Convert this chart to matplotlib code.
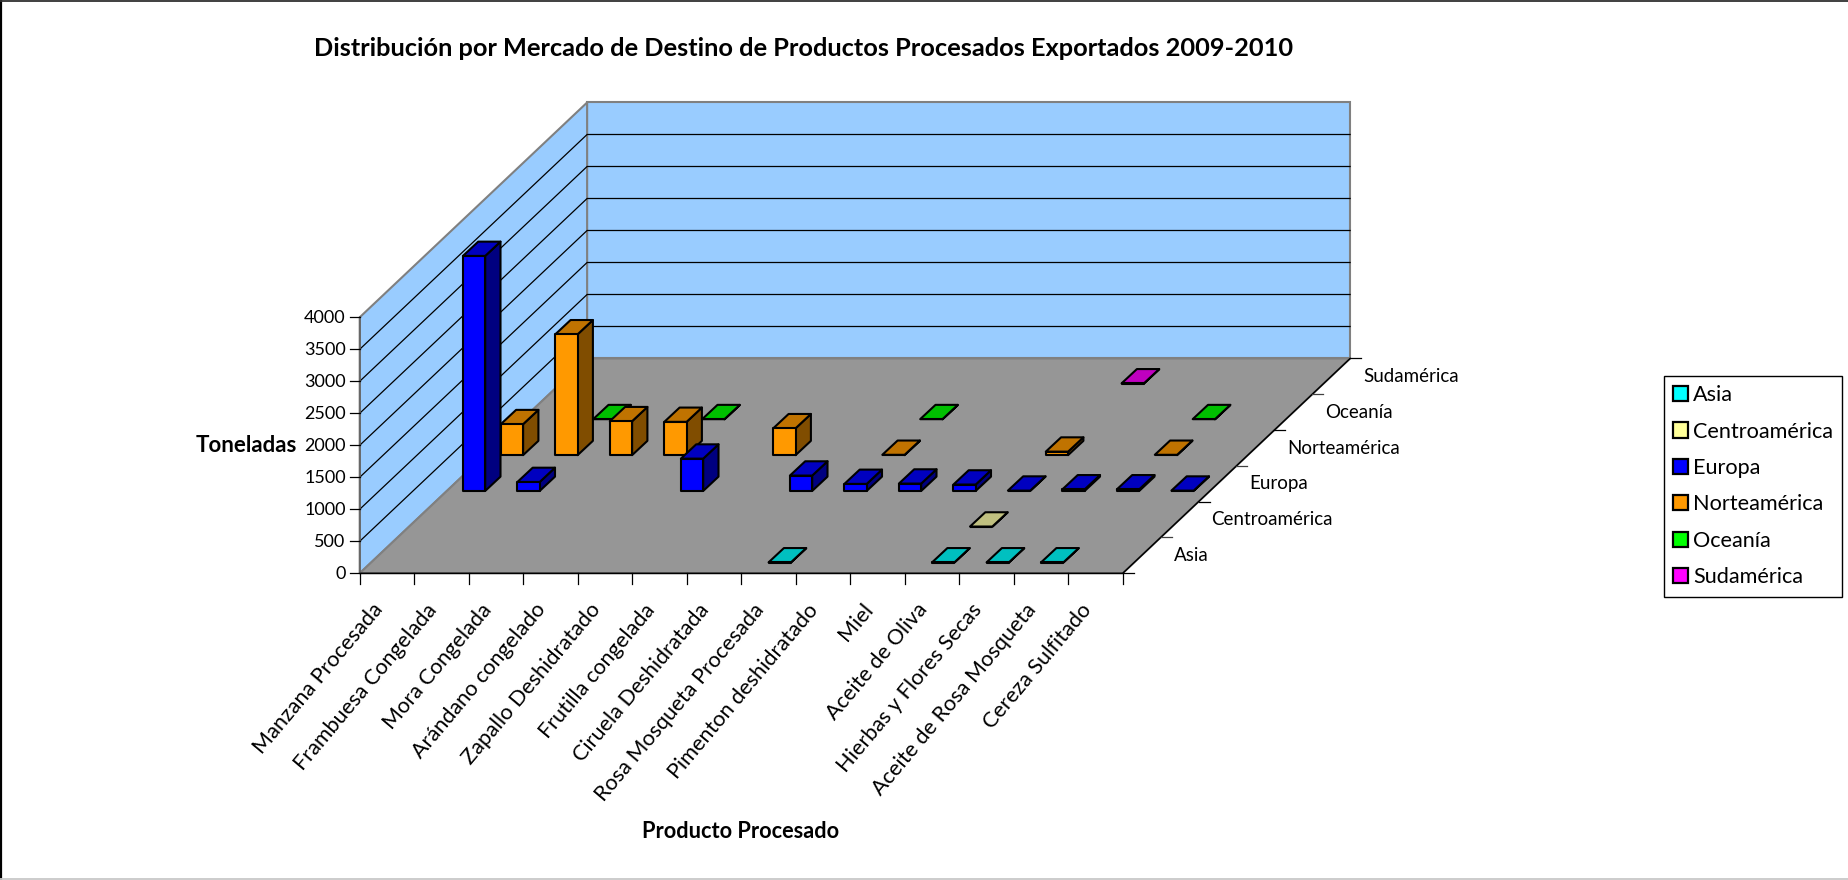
import matplotlib
matplotlib.use("Agg")
import matplotlib.pyplot as plt
from matplotlib.patches import Polygon, Patch

plt.rcParams['font.family'] = ['Lato', 'DejaVu Sans']

productos = ["Manzana Procesada", "Frambuesa Congelada", "Mora Congelada",
             "Arándano congelado", "Zapallo Deshidratado", "Frutilla congelada",
             "Ciruela Deshidratada", "Rosa Mosqueta Procesada", "Pimenton deshidratado",
             "Miel", "Aceite de Oliva", "Hierbas y Flores Secas",
             "Aceite de Rosa Mosqueta", "Cereza Sulfitado"]
mercados = ["Asia", "Centroamérica", "Europa", "Norteamérica", "Oceanía", "Sudamérica"]
z_ticks = [0, 500, 1000, 1500, 2000, 2500, 3000, 3500, 4000]

asia = [0, 0, 0, 0, 0, 0, 0, 3, 0, 0, 3, 3, 3, 0]
centroamerica = [0, 0, 0, 0, 0, 0, 0, 0, 0, 0, 3, 0, 0, 0]
europa = [3672, 140, 0, 0, 505, 0, 240, 110, 115, 100, 5, 25, 25, 5]
norteamerica = [484, 1888, 530, 520, 0, 420, 0, 5, 0, 0, 55, 0, 5, 0]
oceania = [0, 3, 0, 3, 0, 0, 0, 3, 0, 0, 0, 0, 3, 0]
sudamerica = [0, 0, 0, 0, 0, 0, 0, 0, 0, 0, 3, 0, 0, 0]
series = [asia, centroamerica, europa, norteamerica, oceania, sudamerica]

colores = ["#00FFFF", "#FFFF99", "#0000FF", "#FF9900", "#00FF00", "#FF00FF"]
caras_sup = ["#00C0C0", "#C0C080", "#0000C0", "#C07300", "#00C000", "#C000C0"]
caras_lat = ["#008080", "#80804D", "#000080", "#804D00", "#008000", "#800080"]

# oblique projection of the excel 3d box, in pixels
X0, Y0 = 359.7, 573.3
DX_CAT = 54.5
DX_SER, DY_SER = 37.9, 35.8
PX_POR_UNIDAD = 0.064
ANCHO = 22.3
PROF_X, PROF_Y = 15.3, 14.3


def proy(c, s, z=0):
    return (X0 + DX_CAT * c + DX_SER * s, Y0 - DY_SER * s - PX_POR_UNIDAD * z)


fig = plt.figure(figsize=(18.49, 8.80), dpi=100)
ax = fig.add_axes([0, 0, 1, 1])
ax.set_xlim(0, 1849)
ax.set_ylim(880, 0)
ax.axis("off")

# chart border: no right edge in the reference, bottom is light
ax.plot([0.8, 0.8], [0, 880], color="black", lw=1.6, clip_on=False)
ax.plot([0, 1849], [1.5, 1.5], color="#303030", lw=1.3, clip_on=False)
ax.plot([0, 1849], [879, 879], color="#C8C8C8", lw=1.3, clip_on=False)

nc, ns = len(productos), len(mercados)
z_max = z_ticks[-1]

# walls and floor
ax.add_patch(Polygon([proy(0, ns), proy(nc, ns), proy(nc, ns, z_max), proy(0, ns, z_max)],
                     fc="#99CCFF", ec="#808080", lw=1.5, zorder=1))
ax.add_patch(Polygon([proy(0, 0), proy(0, ns), proy(0, ns, z_max), proy(0, 0, z_max)],
                     fc="#99CCFF", ec="#808080", lw=1.5, zorder=1))
ax.add_patch(Polygon([proy(0, 0), proy(nc, 0), proy(nc, ns), proy(0, ns)],
                     fc="#969696", ec="#808080", lw=1.5, zorder=2))

# gridlines
for z in z_ticks[1:-1]:
    a, b, c = proy(0, 0, z), proy(0, ns, z), proy(nc, ns, z)
    ax.plot([a[0], b[0], c[0]], [a[1], b[1], c[1]], color="black", lw=0.9, zorder=1.5)

# front axis lines
a, b, c = proy(0, 0), proy(nc, 0), proy(nc, ns)
ax.plot([a[0], b[0], c[0]], [a[1], b[1], c[1]], color="black", lw=1.1, zorder=3)
t = proy(0, 0, z_max)
ax.plot([a[0], t[0]], [a[1], t[1]], color="#606060", lw=1.1, zorder=3)

# axis ticks and labels
for z in z_ticks:
    x, y = proy(0, 0, z)
    ax.plot([x - 10, x], [y, y], color="black", lw=0.9, zorder=3)
    ax.text(x - 14, y + 1, str(z), ha="right", va="center", fontsize=13, color="black")

for i in range(nc + 1):
    x, y = proy(i, 0)
    ax.plot([x, x], [y, y + 11], color="black", lw=0.9, zorder=3)

for i, nombre in enumerate(productos):
    x, y = proy(i + 0.5, 0)
    ax.text(x - 8, y + 33, nombre, rotation=50, rotation_mode="anchor",
            ha="right", va="center", fontsize=15.6, color="black")

for s in range(ns + 1):
    x, y = proy(nc, s)
    ax.plot([x, x + 11], [y, y], color="black" if s % 2 == 0 else "#404040", lw=0.9, zorder=3)

for s, nombre in enumerate(mercados):
    x, y = proy(nc, s + 0.5)
    ax.text(x + 32, y, nombre, ha="left", va="center", fontsize=13.5, color="black")

# bars, back row first so the front ones cover them
for s in range(ns - 1, -1, -1):
    for i in range(nc - 1, -1, -1):
        v = series[s][i]
        if v <= 0:
            continue
        xc, yc = proy(i + 0.5, s + 0.5)
        x0 = xc - (ANCHO + PROF_X) / 2
        x1 = x0 + ANCHO
        y0 = yc + PROF_Y / 2
        y1 = y0 - PX_POR_UNIDAD * v
        base = 10 + (ns - s) * 10 + (nc - i) * 0.1
        ax.add_patch(Polygon([(x1, y0), (x1 + PROF_X, y0 - PROF_Y), (x1 + PROF_X, y1 - PROF_Y), (x1, y1)],
                             fc=caras_lat[s], ec="black", lw=1.5, joinstyle="round", zorder=base))
        ax.add_patch(Polygon([(x0, y1), (x1, y1), (x1 + PROF_X, y1 - PROF_Y), (x0 + PROF_X, y1 - PROF_Y)],
                             fc=caras_sup[s], ec="black", lw=1.5, joinstyle="round", zorder=base))
        ax.add_patch(Polygon([(x0, y0), (x1, y0), (x1, y1), (x0, y1)],
                             fc=colores[s], ec="black", lw=1.5, joinstyle="round", zorder=base))

# titles
ax.text(804, 49, "Distribución por Mercado de Destino de Productos Procesados Exportados 2009-2010",
        ha="center", va="center", fontsize=18.3, fontweight="bold", color="black")
ax.text(246, 445, "Toneladas", ha="center", va="center", fontsize=16, fontweight="bold", color="black")
ax.text(741, 832, "Producto Procesado", ha="center", va="center", fontsize=15.7, fontweight="bold", color="black")

# legend
handles = [Patch(facecolor=col, edgecolor="black", linewidth=1.6, label=m) for col, m in zip(colores, mercados)]
leg = ax.legend(handles=handles, loc="upper left", bbox_to_anchor=(1664 / 1849, 1 - 376 / 880),
                bbox_transform=fig.transFigure, frameon=True, fontsize=15.6, fancybox=False,
                edgecolor="black", framealpha=1, borderaxespad=0, borderpad=0.42,
                handlelength=0.7, handleheight=0.7, handletextpad=0.22, labelspacing=0.76)
leg.get_frame().set_linewidth(1.0)

fig.savefig("out.png", dpi=100)
